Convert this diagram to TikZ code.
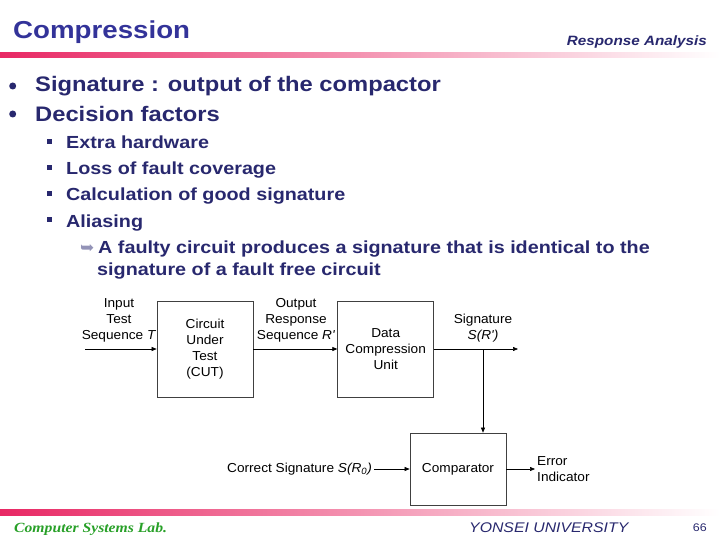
\documentclass[tikz,border=0pt]{standalone}
\usepackage{fontspec}
\setmainfont{Liberation Sans}[FakeStretch=1.13]
\newfontfamily\diagfont{Liberation Sans}[FakeStretch=1.05]
\newfontfamily\labfont{Liberation Serif}[FakeStretch=1.12]
\newfontfamily\symfont{DejaVu Sans}
\usepackage{xcolor}
\usepackage{tikz}
\usetikzlibrary{arrows.meta, positioning, calc}

\definecolor{titleblue}{RGB}{51,51,153}
\definecolor{navy}{RGB}{40,40,110}
\definecolor{barred}{RGB}{232,40,100}
\definecolor{labgreen}{RGB}{40,160,40}

\begin{document}
\begin{tikzpicture}[
    x=1pt, y=-1pt,
    >={Triangle[length=5pt,width=4pt]},
    txt/.style={anchor=base west, inner sep=0pt, text=navy},
    lvlone/.style={txt, font=\bfseries\fontsize{21}{25}\selectfont},
    lvltwo/.style={txt, font=\bfseries\fontsize{17.5}{22}\selectfont},
    dot/.style={circle, fill=navy, inner sep=0pt, minimum size=7pt},
    sq/.style={rectangle, fill=navy, inner sep=0pt, minimum size=5pt},
    blk/.style={rectangle, draw=black!75, line width=0.7pt, minimum width=96pt, minimum height=96pt, align=center, font=\diagfont\fontsize{13}{16}\selectfont},
    lbl/.style={align=center, inner sep=2pt, font=\diagfont\fontsize{13}{16}\selectfont},
    arrow/.style={->, draw=black, line width=0.6pt}
]
\useasboundingbox (0,0) rectangle (720,540);

% Header and footer
\node (title) [anchor=base west, inner sep=0pt, text=titleblue, font=\bfseries\fontsize{24.5}{28}\selectfont] at (13,39) {Compression};
\node (topic) [anchor=base east, inner sep=0pt, text=navy, font=\bfseries\itshape\fontsize{13.5}{16}\selectfont] at (707,46) {Response Analysis};
\shade [left color=barred, middle color=barred!40, right color=white] (0,53) rectangle (720,58);
\shade [left color=barred, middle color=barred!40, right color=white] (0,509) rectangle (720,515);
\node (lab) [anchor=base west, inner sep=0pt, text=labgreen, font=\labfont\bfseries\itshape\fontsize{14}{16}\selectfont] at (14,532) {Computer Systems Lab.};
\node (univ) [anchor=base west, inner sep=0pt, text=navy, font=\itshape\fontsize{14}{16}\selectfont] at (469,532) {YONSEI UNIVERSITY};
\node (page) [anchor=base east, inner sep=0pt, text=navy, font=\fontsize{11}{13}\selectfont] at (707,531) {66};

% Bullets
\node (dotA) [dot] at (12.7,86) {};
\node (sigdef) [lvlone] at (35,91.5) {Signature : output of the compactor};
\node (dotB) [dot] at (12.7,114) {};
\node (factors) [lvlone] at (35,121.5) {Decision factors};

\node (sqA) [sq] at (49.5,142) {};
\node (hw) [lvltwo] at (66,149) {Extra hardware};
\node (sqB) [sq] at (49.5,168) {};
\node (cov) [lvltwo] at (66,175) {Loss of fault coverage};
\node (sqC) [sq] at (49.5,194) {};
\node (calc) [lvltwo] at (66,201) {Calculation of good signature};
\node (sqD) [sq] at (49.5,220) {};
\node (alias) [lvltwo] at (66,227) {Aliasing};
\node (hint) [txt, text=navy!50, font=\symfont\fontsize{17}{18}\selectfont] at (80,253) {➥};
\node (aliasA) [lvltwo] at (98,253) {A faulty circuit produces a signature that is identical to the};
\node (aliasB) [lvltwo] at (97,275) {signature of a fault free circuit};

% Block diagram
\node (cut) [blk] at (205,349) {Circuit\\Under\\Test\\(CUT)};
\node (dcu) [blk, right=84pt of cut] {Data\\Compression\\Unit};
\node (cmp) [blk, minimum height=72pt] at (458,469) {Comparator};

\coordinate (tin) at (85,349);
\coordinate (sout) at (518,349);
\coordinate (sig) at (483,349);

\node (tinlbl) [lbl] at (119,320) {Input\\Test\\Sequence \textit{T}};
\node (rlbl) [lbl] at (296,320) {Output\\Response\\Sequence \textit{R'}};
\node (siglbl) [lbl] at (483,328) {Signature\\\textit{S(R')}};
\node (good) [lbl, anchor=east] at (374,469) {Correct Signature \textit{S(R\textsubscript{0})}};
\node (err) [lbl, align=left, anchor=west] at (535,469) {Error\\Indicator};

\draw [arrow] (tin) -- (cut);
\draw [arrow] (cut) -- (dcu);
\draw [arrow] (dcu) -- (sout);
\draw [arrow] (sig) -- (sig |- cmp.north);
\draw [arrow] (good) -- (cmp);
\draw [arrow] (cmp) -- (err);

\end{tikzpicture}
\end{document}
